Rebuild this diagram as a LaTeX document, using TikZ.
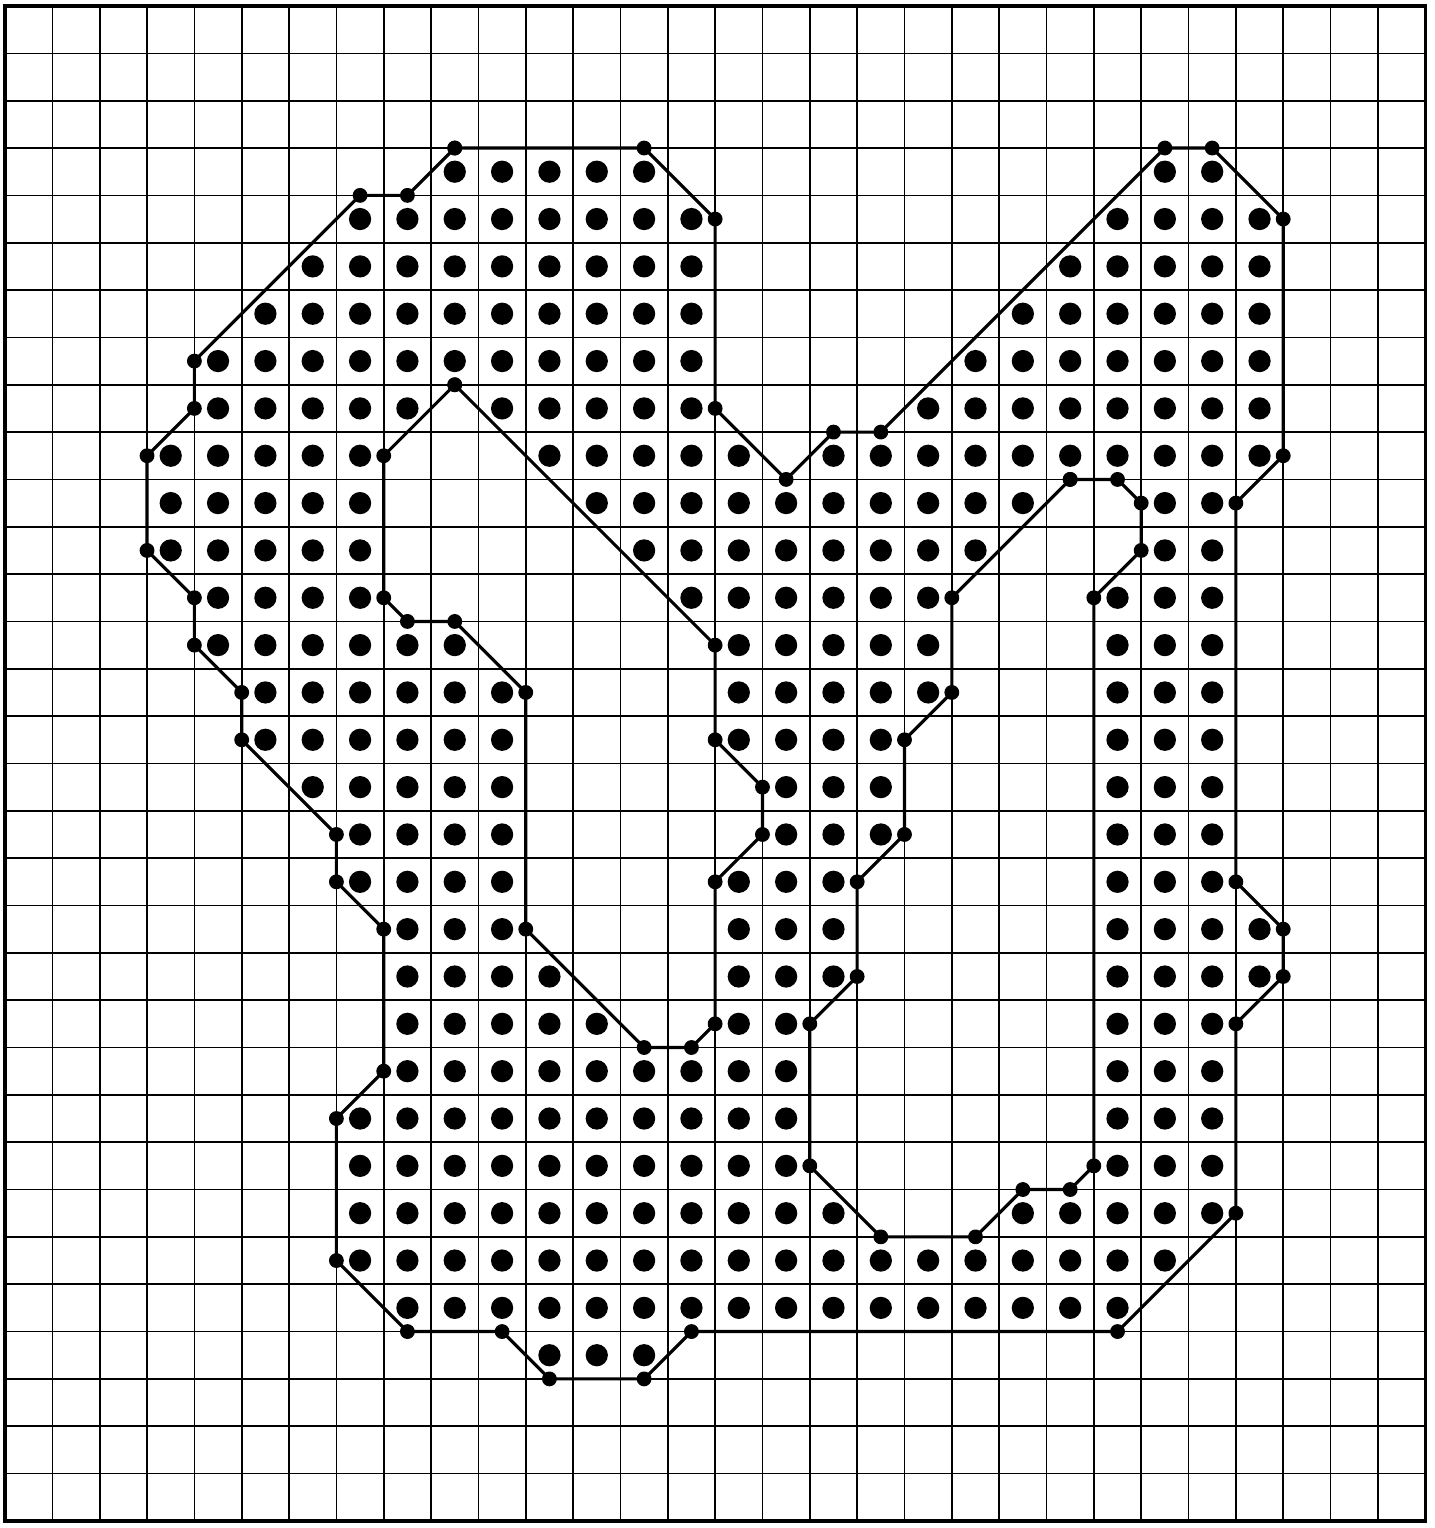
\documentclass[tikz,border=0pt]{standalone}
\usepackage{tikz}

\begin{document}
\begin{tikzpicture}[y=-1cm,
  gridline/.style={line width=1pt},
  sheet/.style={line width=2pt},
  outline/.style={line width=1.9pt, line join=round, line cap=round,
                  mark=*, mark size=3.5pt, mark options={fill=black}},
  pixel/.style={fill=black}
]
\useasboundingbox (-0.106,-0.127) rectangle (30.19,32.15);

% Grid paper
\draw[gridline] (0,0) grid (30,32);
\draw[sheet] (0,0) rectangle (30,32);

% Pixels of the region: row / first column / last column
\foreach \r/\a/\b in {3/9/13, 3/24/25,
    4/7/14, 4/23/26,   5/6/14, 5/22/26,   6/5/14, 6/21/26,   7/4/14, 7/20/26,
    8/4/8, 8/10/14, 8/19/26,   9/3/7, 9/11/15, 9/17/26,
    10/3/7, 10/12/21, 10/24/25,   11/3/7, 11/13/20, 11/24/25,
    12/4/7, 12/14/19, 12/23/25,   13/4/9, 13/15/19, 13/23/25,
    14/5/10, 14/15/19, 14/23/25,  15/5/10, 15/15/18, 15/23/25,
    16/6/10, 16/16/18, 16/23/25,  17/7/10, 17/16/18, 17/23/25,
    18/7/10, 18/15/17, 18/23/25,  19/8/10, 19/15/17, 19/23/26,
    20/8/11, 20/15/17, 20/23/26,  21/8/12, 21/15/16, 21/23/25,
    22/8/16, 22/23/25,   23/7/16, 23/23/25,   24/7/16, 24/23/25,
    25/7/17, 25/21/25,   26/7/24,   27/8/23,   28/11/13}
  \foreach \c in {\a,...,\b}
    \fill[pixel] (\c+0.5,\r+0.5) circle (0.235cm);

% Outer boundary
\draw[outline] plot coordinates {(9.5,3) (13.5,3) (15,4.5) (15,8.5) (16.5,10)
  (17.5,9) (18.5,9) (24.5,3) (25.5,3) (27,4.5) (27,9.5) (26,10.5) (26,18.5)
  (27,19.5) (27,20.5) (26,21.5) (26,25.5) (23.5,28) (14.5,28) (13.5,29)
  (11.5,29) (10.5,28) (8.5,28) (7,26.5) (7,23.5) (8,22.5) (8,19.5) (7,18.5)
  (7,17.5) (5,15.5) (5,14.5) (4,13.5) (4,12.5) (3,11.5) (3,9.5) (4,8.5)
  (4,7.5) (7.5,4) (8.5,4) (9.5,3)};

% Left hole
\draw[outline] plot coordinates {(9.5,8) (8,9.5) (8,12.5) (8.5,13) (9.5,13)
  (11,14.5) (11,19.5) (13.5,22) (14.5,22) (15,21.5) (15,18.5) (16,17.5)
  (16,16.5) (15,15.5) (15,13.5) (9.5,8)};

% Right hole
\draw[outline] plot coordinates {(22.5,10) (23.5,10) (24,10.5) (24,11.5)
  (23,12.5) (23,24.5) (22.5,25) (21.5,25) (20.5,26) (18.5,26) (17,24.5)
  (17,21.5) (18,20.5) (18,18.5) (19,17.5) (19,15.5) (20,14.5) (20,12.5)
  (22.5,10)};

\end{tikzpicture}
\end{document}
